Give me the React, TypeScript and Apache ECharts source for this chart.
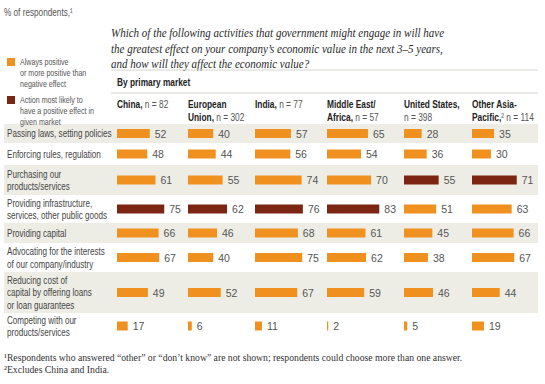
import React, { useEffect, useRef } from "react";
import * as echarts from "echarts";

// ---------- data ----------
const activities: string[] = [
  "Passing laws, setting policies",
  "Enforcing rules, regulation",
  "Purchasing our\nproducts/services",
  "Providing infrastructure,\nservices, other public goods",
  "Providing capital",
  "Advocating for the interests\nof our company/industry",
  "Reducing cost of\ncapital by offering loans\nor loan guarantees",
  "Competing with our\nproducts/services",
];

const marketHeaders: string[] = [
  "{b|China,} {r|n = 82}",
  "{b|European}\n{b|Union,} {r|n = 302}",
  "{b|India,} {r|n = 77}",
  "{b|Middle East/}\n{b|Africa,} {r|n = 57}",
  "{b|United States,}\n{r|n = 398}",
  "{b|Other Asia-}\n{b|Pacific,}{r|² n = 114}",
];

const china: number[] = [52, 48, 61, 75, 66, 67, 49, 17];
const europeanUnion: number[] = [40, 44, 55, 62, 46, 40, 52, 6];
const india: number[] = [57, 56, 74, 76, 68, 75, 67, 11];
const middleEastAfrica: number[] = [65, 54, 70, 83, 61, 62, 59, 2];
const unitedStates: number[] = [28, 36, 55, 51, 45, 38, 46, 5];
const otherAsiaPacific: number[] = [35, 30, 71, 63, 66, 67, 44, 19];
const marketValues: number[][] = [china, europeanUnion, india, middleEastAfrica, unitedStates, otherAsiaPacific];

// index of the activity "most likely to have a positive effect" per market
const mostLikelyIndex: number[] = [3, 3, 3, 3, 2, 2];

const legendLabels: string[] = [
  "Always positive\nor more positive than\nnegative effect",
  "Action most likely to\nhave a positive effect in\ngiven market",
];

const titleLines: string[] = [
  "Which of the following activities that government might engage in will have",
  "the greatest effect on your company’s economic value in the next 3–5 years,",
  "and how will they affect the economic value?",
];
const subtitle = "By primary market";
const unitNote = "% of respondents,¹";
const footnotes: string[] = [
  "¹Respondents who answered “other” or “don’t know” are not shown; respondents could choose more than one answer.",
  "²Excludes China and India.",
];

// ---------- layout / style ----------
const SANS = "'Liberation Sans', Arial, sans-serif";
const SERIF = "'Liberation Serif', 'DejaVu Serif', serif";
const ORANGE = "#F0901F";
const DARK = "#7B2512";
const SHADE = "#EEEDE5";
const NARROW = 0.76; // horizontal condensing of sans texts

const colLeft = [117, 188, 255, 327, 404, 472];
const barSpan = 63; // pixels for 0-100
const firstRowTop = 124;
const rowHeights = [19, 22, 30, 28, 20, 29, 41, 26];
const rowTops: number[] = rowHeights.reduce<number[]>((acc, h, i) => {
  acc.push(i === 0 ? firstRowTop : acc[i - 1] + rowHeights[i - 1]);
  return acc;
}, []);

function txt(x: number, y: number, scaleX: number, style: any): any {
  return { type: "text", x, y, scaleX, style: { x: 0, y: 0, ...style } };
}

function buildOption(): echarts.EChartsOption {
  const grids: any[] = [];
  const xAxes: any[] = [];
  const yAxes: any[] = [];
  const series: any[] = [];
  let k = 0;
  marketValues.forEach((vals, c) => {
    vals.forEach((v, r) => {
      grids.push({ left: colLeft[c], top: rowTops[r], width: barSpan, height: rowHeights[r], show: false });
      xAxes.push({ gridIndex: k, type: "value", min: 0, max: 100, show: false });
      yAxes.push({ gridIndex: k, type: "category", data: [activities[r]], show: false });
      series.push({
        type: "bar",
        xAxisIndex: k,
        yAxisIndex: k,
        barWidth: 9,
        silent: true,
        data: [{ value: v, itemStyle: { color: r === mostLikelyIndex[c] ? DARK : ORANGE } }],
        label: {
          show: true,
          position: "right",
          distance: 5,
          color: "#555",
          fontFamily: SANS,
          fontSize: 10.5,
        },
      });
      k++;
    });
  });

  const graphics: any[] = [];
  // shaded rows
  rowTops.forEach((t, r) => {
    if (r % 2 === 0) {
      graphics.push({ type: "rect", z: -10, shape: { x: 4, y: t, width: 534, height: rowHeights[r] }, style: { fill: SHADE } });
    }
  });
  // row labels
  activities.forEach((a, r) => {
    graphics.push(
      txt(7, rowTops[r] + rowHeights[r] / 2, 0.735, {
        text: a, verticalAlign: "middle", fontFamily: SANS, fontSize: 11, lineHeight: 12.8, fill: "#444",
      })
    );
  });
  // column headers
  marketHeaders.forEach((h, c) => {
    graphics.push(
      txt(colLeft[c], 98, NARROW, {
        text: h, verticalAlign: "top", fontFamily: SANS, fontSize: 11, lineHeight: 12.5,
        rich: {
          b: { fontFamily: SANS, fontSize: 11, fontWeight: "bold", fill: "#222", lineHeight: 12.5 },
          r: { fontFamily: SANS, fontSize: 11, fill: "#555", lineHeight: 12.5 },
        },
      })
    );
  });
  // title
  titleLines.forEach((t, i) => {
    graphics.push(
      txt(111, 33 + i * 15.5, 0.86, {
        text: t, verticalAlign: "middle", fontFamily: SERIF, fontStyle: "italic", fontSize: 12.8, fill: "#2a2a2a",
      })
    );
  });
  // rules
  [70, 93].forEach((y) => {
    graphics.push({ type: "line", shape: { x1: 111, y1: y, x2: 538, y2: y }, style: { stroke: "#D5D5D0", lineWidth: 1 } });
  });
  graphics.push(
    txt(117, 82, NARROW, { text: subtitle, verticalAlign: "middle", fontFamily: SANS, fontSize: 11, fontWeight: "bold", fill: "#222" })
  );
  // unit note
  graphics.push(txt(4, 12, NARROW, { text: unitNote, verticalAlign: "middle", fontFamily: SANS, fontSize: 10.8, fill: "#555" }));
  // legend
  const legendTops = [58, 96];
  [ORANGE, DARK].forEach((col, i) => {
    graphics.push({ type: "rect", shape: { x: 7, y: legendTops[i], width: 8, height: 8 }, style: { fill: col } });
    graphics.push(
      txt(20, legendTops[i] - 2, 0.74, {
        text: legendLabels[i], verticalAlign: "top", fontFamily: SANS, fontSize: 9.6, lineHeight: 11, fill: "#555",
      })
    );
  });
  // footnotes
  footnotes.forEach((f, i) => {
    graphics.push(
      txt(4, 357 + i * 12, 1, { text: f, verticalAlign: "middle", fontFamily: SERIF, fontSize: 9.7, fill: "#333" })
    );
  });

  return {
    animation: false,
    backgroundColor: "#fff",
    grid: grids,
    xAxis: xAxes,
    yAxis: yAxes,
    series,
    graphic: { elements: graphics },
  } as any;
}

export default function App() {
  const ref = useRef<HTMLDivElement>(null);
  useEffect(() => {
    if (!ref.current) return;
    const chart = echarts.init(ref.current, null, { renderer: "svg" });
    chart.setOption(buildOption());
    return () => chart.dispose();
  }, []);
  return <div ref={ref} style={{ width: 545, height: 384, position: "absolute", left: 0, top: 0 }} />;
}
